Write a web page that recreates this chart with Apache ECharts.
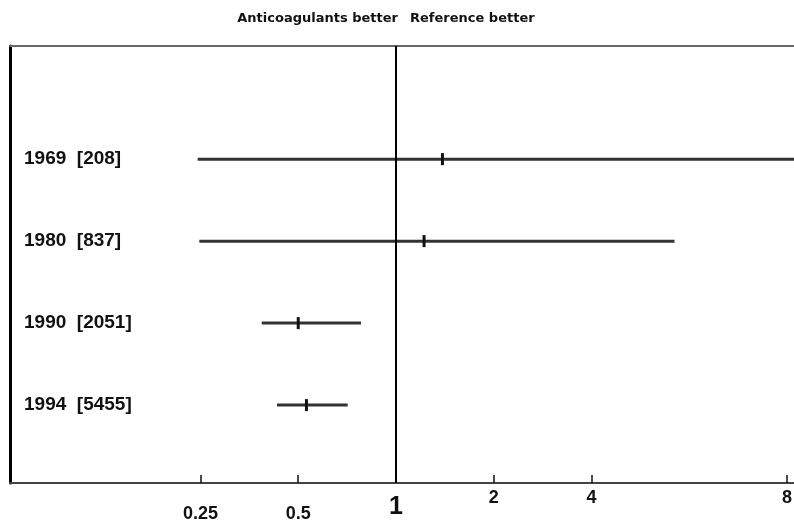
<!DOCTYPE html>
<html>
<head>
<meta charset="utf-8">
<script src="https://cdn.jsdelivr.net/npm/echarts@6/dist/echarts.min.js"></script>
<style>
  html, body { margin: 0; padding: 0; background: #fff; }
  #chart { width: 794px; height: 525px; }
</style>
</head>
<body>
<div id="chart"></div>
<script>
// studies, odds ratio with confidence interval
const studies = ['1969  [208]', '1980  [837]', '1990  [2051]', '1994  [5455]']
const estimate = [1.39, 1.22, 0.50, 0.53]
const lower = [0.245, 0.248, 0.386, 0.43]
const upper = [20, 7.2, 0.78, 0.71] // 1969 runs off the right edge
const rowIndex = [0, 1, 2, 3]

// the source puts its "8" label on the last doubling of the drawn scale
const tickValues = [0.25, 0.5, 1, 2, 4, 16]
const tickLabels = ['0.25', '0.5', '1', '2', '4', '8']
const tickStyle = ['low', 'low', 'one', 'hi', 'hi', 'hi']

const font = '"Liberation Sans", Arial, sans-serif'
const titleFont = 'bold 13px "DejaVu Sans", sans-serif'

const chart = echarts.init(document.getElementById('chart'))

const seriesData = studies.map((s, i) => [lower[i], upper[i], estimate[i], rowIndex[i]])

const tickIndex = v => tickValues.findIndex(t => Math.abs(Math.log2(v) - Math.log2(t)) < 0.01)

const xMin = 0.0648
const xMax = 16.8

const option = {
  animation: false,
  backgroundColor: '#fff',
  graphic: [
    {
      type: 'text', right: 396, top: 12,
      style: { text: 'Anticoagulants better', font: titleFont, fill: '#111' }
    },
    {
      type: 'text', left: 410, top: 12,
      style: { text: 'Reference better', font: titleFont, fill: '#111' }
    }
  ],
  grid: {
    left: 10,
    right: 0,
    top: 46,
    bottom: 42,
    containLabel: false,
    outerBoundsMode: 'none'
  },
  xAxis: [
    {
      type: 'log',
      logBase: 2,
      min: xMin,
      max: xMax,
      axisLine: { onZero: false, lineStyle: { color: '#444', width: 2 } },
      axisTick: {
        show: true,
        customValues: tickValues,
        inside: true,
        length: 8,
        lineStyle: { color: '#111', width: 1.5 }
      },
      splitLine: { show: false },
      minorTick: { show: false },
      axisLabel: {
        customValues: tickValues,
        margin: 6,
        verticalAlign: 'top',
        formatter: v => {
          const i = tickIndex(v)
          if (i < 0) return ''
          return '{' + tickStyle[i] + '|' + tickLabels[i] + '}'
        },
        rich: {
          hi: { fontFamily: font, fontWeight: 'bold', fontSize: 18, color: '#111', padding: [0, 0, 0, 0] },
          low: { fontFamily: font, fontWeight: 'bold', fontSize: 18, color: '#111', padding: [16, 0, 0, 0] },
          one: { fontFamily: font, fontWeight: 'bold', fontSize: 25, color: '#111', padding: [6, 0, 0, 0] }
        }
      }
    },
    {
      // top frame line
      type: 'log',
      logBase: 2,
      position: 'top',
      min: xMin,
      max: xMax,
      axisLine: { onZero: false, lineStyle: { color: '#666', width: 2 } },
      axisTick: { show: false },
      axisLabel: { show: false },
      splitLine: { show: false }
    }
  ],
  yAxis: {
    type: 'value',
    inverse: true,
    min: -1.38,
    max: 3.95,
    axisLine: { show: true, onZero: false, lineStyle: { color: '#000', width: 3 } },
    axisTick: { show: false },
    splitLine: { show: false },
    axisLabel: {
      customValues: rowIndex,
      inside: true,
      margin: 14,
      fontFamily: font,
      fontWeight: 'bold',
      fontSize: 19,
      color: '#111',
      formatter: v => studies[Math.round(v)] || ''
    }
  },
  series: [
    {
      type: 'custom',
      clip: true,
      data: seriesData,
      encode: { x: [0, 1, 2], y: 3 },
      renderItem: (params, api) => {
        const row = api.value(3)
        const y = api.coord([1, row])[1]
        const lo = api.coord([api.value(0), row])[0]
        const hi = api.coord([api.value(1), row])[0]
        const est = api.coord([api.value(2), row])[0]
        return {
          type: 'group',
          children: [
            {
              type: 'line',
              shape: { x1: lo, y1: y, x2: hi, y2: y },
              style: { stroke: '#333', lineWidth: 3 }
            },
            {
              type: 'rect',
              shape: { x: est - 1.5, y: y - 6, width: 3, height: 12 },
              style: { fill: '#111' }
            }
          ]
        }
      },
      markLine: {
        silent: true,
        symbol: 'none',
        label: { show: false },
        lineStyle: { color: '#000', width: 2, type: 'solid' },
        data: [{ xAxis: 1 }]
      }
    }
  ]
}

chart.setOption(option)
</script>
</body>
</html>
